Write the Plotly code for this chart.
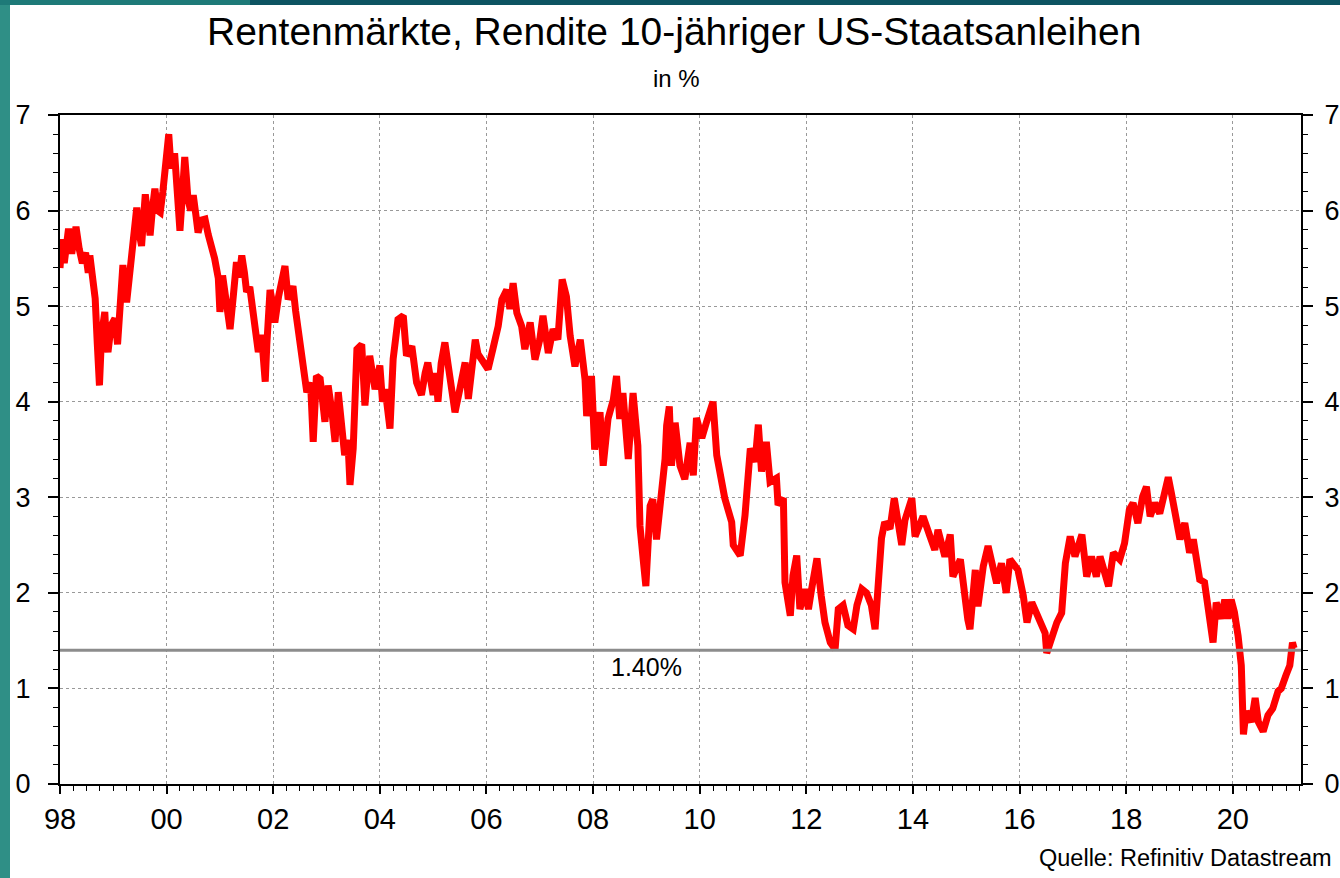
import plotly.graph_objects as go

# Time in decimal years, yield in %
years = [
    1998.0, 1998.04, 1998.08, 1998.16, 1998.22, 1998.3, 1998.36, 1998.42, 1998.48, 1998.53,
    1998.56, 1998.62, 1998.66, 1998.7, 1998.74, 1998.78, 1998.84, 1998.87, 1998.9, 1998.96,
    1999.03, 1999.08, 1999.13, 1999.18, 1999.25, 1999.3, 1999.34, 1999.4, 1999.44, 1999.49,
    1999.53, 1999.6, 1999.65, 1999.69, 1999.74, 1999.78, 1999.83, 1999.88, 1999.93, 1999.97,
    2000.04, 2000.07, 2000.1, 2000.15, 2000.19, 2000.22, 2000.25, 2000.3, 2000.34, 2000.37,
    2000.4, 2000.45, 2000.5, 2000.55, 2000.59, 2000.65, 2000.72, 2000.78, 2000.85, 2000.9,
    2000.97, 2001.0, 2001.05, 2001.1, 2001.15, 2001.19, 2001.25, 2001.31, 2001.36, 2001.41,
    2001.46, 2001.5, 2001.56, 2001.62, 2001.66, 2001.72, 2001.78, 2001.85, 2001.88, 2001.94,
    2002.0, 2002.03, 2002.1, 2002.16, 2002.22, 2002.28, 2002.37, 2002.42, 2002.47, 2002.56,
    2002.63, 2002.7, 2002.75, 2002.81, 2002.88, 2002.97, 2003.03, 2003.1, 2003.16, 2003.22,
    2003.28, 2003.34, 2003.4, 2003.44, 2003.5, 2003.57, 2003.66, 2003.72, 2003.77, 2003.81,
    2003.91, 2004.0, 2004.05, 2004.1, 2004.19, 2004.25, 2004.34, 2004.44, 2004.5, 2004.6,
    2004.69, 2004.78, 2004.85, 2004.9, 2005.0, 2005.05, 2005.09, 2005.15, 2005.22, 2005.32,
    2005.41, 2005.5, 2005.6, 2005.66, 2005.72, 2005.79, 2005.84, 2005.9, 2005.97, 2006.03,
    2006.12, 2006.22, 2006.29, 2006.38, 2006.44, 2006.5, 2006.57, 2006.66, 2006.72, 2006.82,
    2006.91, 2007.0, 2007.06, 2007.16, 2007.25, 2007.34, 2007.42, 2007.5, 2007.57, 2007.66,
    2007.76, 2007.85, 2007.88, 2007.97, 2008.03, 2008.13, 2008.19, 2008.28, 2008.38, 2008.44,
    2008.5, 2008.56, 2008.66, 2008.75, 2008.84, 2008.88, 2008.94, 2008.99, 2009.07, 2009.12,
    2009.19, 2009.29, 2009.35, 2009.38, 2009.43, 2009.47, 2009.54, 2009.63, 2009.72, 2009.82,
    2009.88, 2009.94, 2010.04, 2010.13, 2010.22, 2010.25, 2010.32, 2010.41, 2010.47, 2010.6,
    2010.63, 2010.76, 2010.85, 2010.95, 2011.04, 2011.1, 2011.16, 2011.25, 2011.32, 2011.44,
    2011.47, 2011.57, 2011.6, 2011.7, 2011.75, 2011.82, 2011.88, 2011.98, 2012.04, 2012.1,
    2012.2, 2012.28, 2012.35, 2012.45, 2012.54, 2012.6, 2012.69, 2012.78, 2012.88, 2012.95,
    2013.04, 2013.13, 2013.22, 2013.29, 2013.35, 2013.41, 2013.47, 2013.57, 2013.65, 2013.73,
    2013.79, 2013.85, 2013.98, 2014.04, 2014.19, 2014.32, 2014.41, 2014.47, 2014.6, 2014.7,
    2014.75, 2014.89, 2014.94, 2015.03, 2015.07, 2015.17, 2015.22, 2015.32, 2015.41, 2015.5,
    2015.57, 2015.66, 2015.75, 2015.82, 2015.91, 2015.97, 2016.07, 2016.14, 2016.23, 2016.32,
    2016.38, 2016.48, 2016.51, 2016.6, 2016.7, 2016.79, 2016.86, 2016.95, 2017.04, 2017.17,
    2017.26, 2017.35, 2017.44, 2017.51, 2017.67, 2017.76, 2017.88, 2017.97, 2018.06, 2018.13,
    2018.22, 2018.31, 2018.38, 2018.45, 2018.54, 2018.63, 2018.73, 2018.79, 2018.85, 2018.94,
    2019.01, 2019.1, 2019.19, 2019.26, 2019.38, 2019.47, 2019.57, 2019.63, 2019.69, 2019.78,
    2019.85, 2019.91, 2019.97, 2020.03, 2020.1, 2020.16, 2020.2, 2020.25, 2020.35, 2020.42,
    2020.48, 2020.57, 2020.66, 2020.75, 2020.85, 2020.91, 2021.0, 2021.07, 2021.12, 2021.15,
]
yields = [
    5.4, 5.7, 5.45, 5.81, 5.55, 5.83, 5.6, 5.45, 5.56, 5.35,
    5.53, 5.3, 5.08, 4.6, 4.17, 4.7, 4.94, 4.6, 4.52, 4.8,
    4.87, 4.6, 5.08, 5.43, 5.04, 5.3, 5.63, 5.8, 6.03, 5.75,
    5.63, 6.17, 5.85, 5.74, 6.05, 6.23, 6.0, 5.98, 6.2, 6.44,
    6.8, 6.55, 6.44, 6.6, 6.26, 6.0, 5.79, 6.2, 6.56, 6.35,
    6.12, 6.0, 6.16, 5.95, 5.77, 5.9, 5.91, 5.75, 5.63, 5.5,
    5.29, 4.94, 5.32, 5.1, 4.95, 4.76, 5.1, 5.46, 5.3, 5.53,
    5.35, 5.15, 5.2, 4.95, 4.73, 4.52, 4.7, 4.21, 4.6, 5.17,
    5.0, 4.83, 5.1, 5.3, 5.42, 5.07, 5.21, 4.95, 4.76, 4.48,
    4.1, 4.2, 3.58, 4.27, 4.24, 3.79, 4.17, 3.9, 3.58, 4.1,
    3.8, 3.44, 3.6, 3.13, 3.51, 4.55, 4.6, 3.96, 4.3, 4.48,
    4.13, 4.38, 4.0, 4.13, 3.72, 4.45, 4.86, 4.9, 4.48, 4.58,
    4.2, 4.07, 4.3, 4.41, 4.07, 4.3, 4.0, 4.4, 4.62, 4.2,
    3.89, 4.13, 4.41, 4.03, 4.4, 4.65, 4.5, 4.45, 4.37, 4.34,
    4.55, 4.79, 5.07, 5.17, 4.97, 5.24, 4.93, 4.79, 4.55, 4.83,
    4.44, 4.65, 4.9, 4.51, 4.76, 4.65, 5.28, 5.1, 4.69, 4.37,
    4.65, 4.23, 3.85, 4.27, 3.5, 3.89, 3.33, 3.82, 4.02, 4.27,
    3.82, 4.09, 3.4, 4.09, 3.54, 2.7, 2.35, 2.07, 2.91, 2.98,
    2.56, 3.05, 3.4, 3.75, 3.95, 3.33, 3.78, 3.33, 3.19, 3.57,
    3.23, 3.83, 3.62, 3.79, 3.93, 4.0, 3.44, 3.16, 2.99, 2.74,
    2.5, 2.39, 2.81, 3.51, 3.37, 3.76, 3.27, 3.58, 3.16, 3.2,
    2.92, 2.99, 2.11, 1.76, 2.18, 2.39, 1.83, 2.04, 1.83, 2.04,
    2.36, 1.97, 1.69, 1.48, 1.41, 1.83, 1.87, 1.66, 1.62, 1.87,
    2.04, 2.0, 1.87, 1.62, 2.04, 2.57, 2.74, 2.67, 2.99, 2.67,
    2.5, 2.76, 2.99, 2.59, 2.8, 2.59, 2.45, 2.66, 2.38, 2.61,
    2.17, 2.35, 2.07, 1.72, 1.62, 2.24, 1.86, 2.28, 2.49, 2.28,
    2.1, 2.31, 2.0, 2.35, 2.28, 2.24, 1.97, 1.69, 1.9, 1.79,
    1.69, 1.58, 1.37, 1.55, 1.69, 1.79, 2.31, 2.59, 2.38, 2.61,
    2.17, 2.38, 2.17, 2.38, 2.07, 2.42, 2.35, 2.52, 2.87, 2.94,
    2.73, 3.01, 3.11, 2.8, 2.94, 2.83, 3.11, 3.21, 3.04, 2.7,
    2.56, 2.73, 2.42, 2.56, 2.14, 2.11, 1.73, 1.48, 1.9, 1.73,
    1.93, 1.73, 1.93, 1.8, 1.55, 1.24, 0.52, 0.76, 0.65, 0.9,
    0.65, 0.55, 0.72, 0.79, 0.97, 1.0, 1.14, 1.24, 1.48, 1.42,
]

x_tick_vals = [1998, 2000, 2002, 2004, 2006, 2008, 2010, 2012, 2014, 2016, 2018, 2020]
x_tick_text = ["98", "00", "02", "04", "06", "08", "10", "12", "14", "16", "18", "20"]
y_ticks = [0, 1, 2, 3, 4, 5, 6, 7]
ref_level = 1.40
ref_label = "1.40%"

title = "Rentenmärkte, Rendite 10-jähriger US-Staatsanleihen"
subtitle = "in %"
source = "Quelle: Refinitiv Datastream"

FONT = "Liberation Sans, Arial, sans-serif"

fig = go.Figure()
fig.add_trace(go.Scatter(
    x=years, y=yields, mode="lines",
    line=dict(color="#ff0000", width=7, shape="linear"),
    hoverinfo="x+y", showlegend=False,
))
# helper invisible trace so the right axis is drawn
fig.add_trace(go.Scatter(
    x=years, y=yields, mode="lines", yaxis="y2",
    line=dict(color="rgba(0,0,0,0)", width=0), hoverinfo="skip", showlegend=False,
))

common_y = dict(
    range=[0, 7], tickvals=y_ticks, ticks="outside", ticklen=10, tickwidth=1.5,
    tickcolor="black", showline=True, linecolor="black", linewidth=2,
    tickfont=dict(family=FONT, size=27, color="black"), zeroline=False, automargin=False,
    minor=dict(dtick=0.2, ticks="outside", ticklen=5, tickwidth=1.2, tickcolor="black", showgrid=False),
)

fig.update_layout(
    width=1340, height=878,
    margin=dict(l=60, r=39, t=115, b=94, autoexpand=False),
    paper_bgcolor="white", plot_bgcolor="white",
    xaxis=dict(
        range=[1998, 2021.28], tickvals=x_tick_vals, ticktext=x_tick_text,
        ticks="outside", ticklen=8, tickwidth=1.5, tickcolor="black",
        showline=True, linecolor="black", linewidth=2, mirror=True,
        showgrid=True, gridcolor="#999999", griddash="dot", gridwidth=1,
        tickfont=dict(family=FONT, size=29, color="black"), zeroline=False, automargin=False,
        minor=dict(dtick=0.25, tick0=1998, ticks="outside", ticklen=5, tickwidth=1.2,
                   tickcolor="black", showgrid=False),
    ),
    yaxis=dict(**common_y, side="left", showgrid=True, gridcolor="#999999",
               griddash="dot", gridwidth=1, ticklabelstandoff=12),
    yaxis2=dict(**common_y, side="right", overlaying="y", showgrid=False, ticklabelstandoff=6),
    showlegend=False,
)

# reference line at 1.40 %
fig.add_shape(type="line", xref="paper", yref="y", x0=0, x1=1, y0=ref_level, y1=ref_level,
              line=dict(color="#8c8c8c", width=3), layer="above")
fig.add_annotation(x=2009.0, y=ref_level, xref="x", yref="y", text=ref_label, showarrow=False,
                   yanchor="top", yshift=-1, font=dict(family=FONT, size=25, color="black"))

# decorative teal frame on left and top edges
PW, PH = 1241.0, 669.0
def px(xp):
    return (xp - 60) / PW
def py(yp):
    return (784 - yp) / PH
fig.add_shape(type="rect", xref="paper", yref="paper", x0=px(0), x1=px(10), y0=py(878), y1=py(0),
              fillcolor="#2f8f86", line=dict(width=0), layer="below")
fig.add_shape(type="rect", xref="paper", yref="paper", x0=px(0), x1=px(1340), y0=py(5), y1=py(0),
              fillcolor="#0d5462", line=dict(width=0), layer="below")
fig.add_shape(type="rect", xref="paper", yref="paper", x0=px(0), x1=px(250), y0=py(5), y1=py(0),
              fillcolor="#1e7a78", line=dict(width=0), layer="below")

fig.add_annotation(x=px(674), y=py(32), xref="paper", yref="paper", text=title, showarrow=False,
                   xanchor="center", yanchor="middle", font=dict(family=FONT, size=39, color="black"))
fig.add_annotation(x=px(676), y=py(78), xref="paper", yref="paper", text=subtitle, showarrow=False,
                   xanchor="center", yanchor="middle", font=dict(family=FONT, size=24, color="black"))
fig.add_annotation(x=px(1334), y=py(858), xref="paper", yref="paper", text=source, showarrow=False,
                   xanchor="right", yanchor="middle", font=dict(family=FONT, size=23.5, color="black"))

fig.write_html("out.html", config={"displayModeBar": False},
               post_script="document.body.style.margin='0px';document.body.style.overflow='hidden';")
